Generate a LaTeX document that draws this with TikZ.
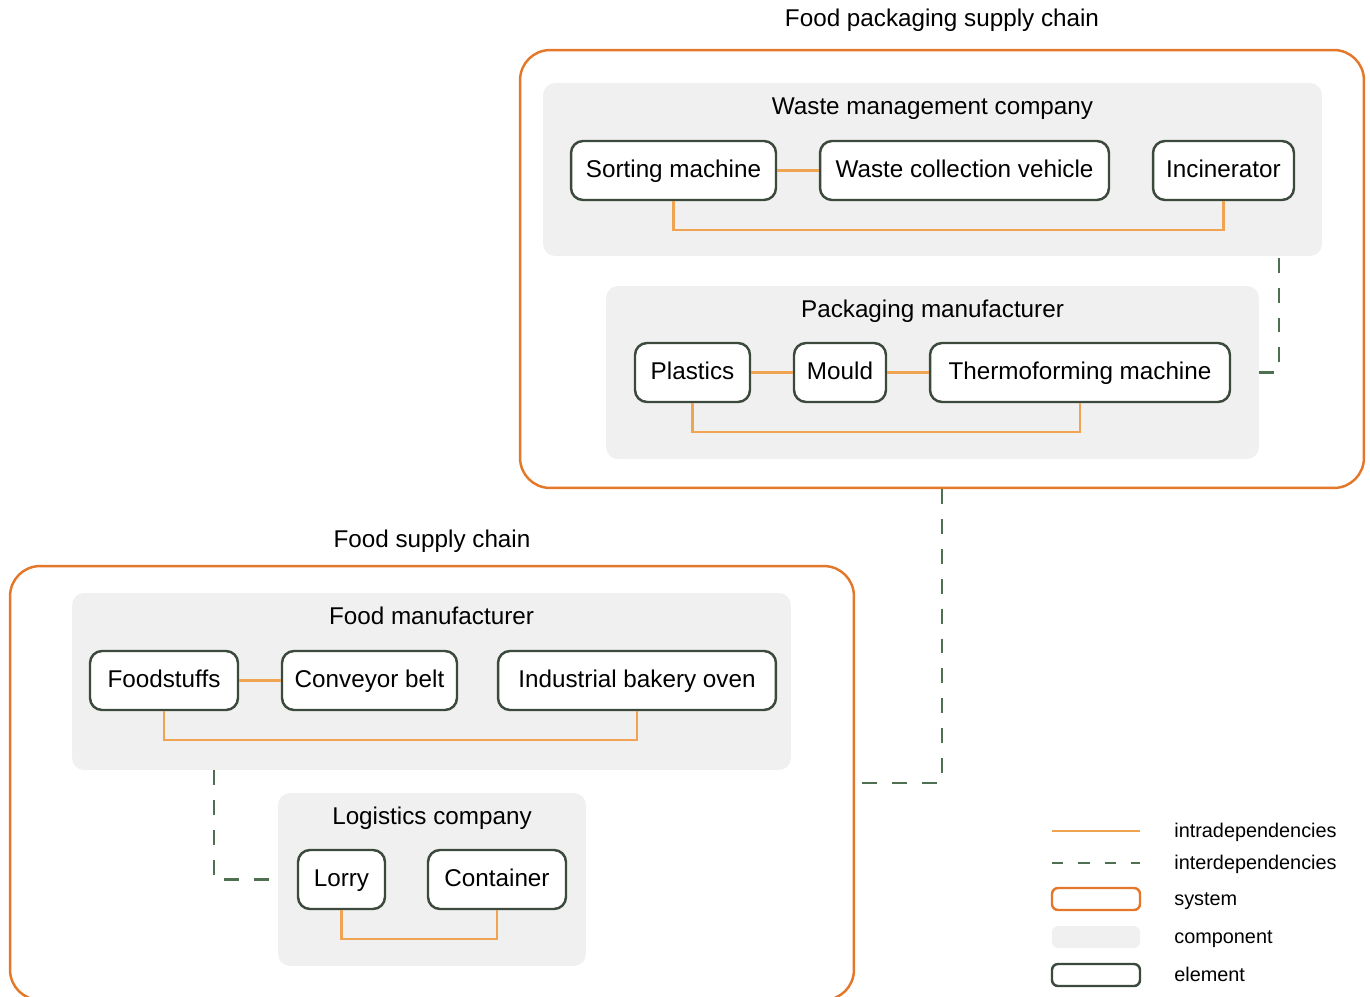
\documentclass[tikz,border=0pt]{standalone}
\usepackage{fontspec}
\setmainfont{Liberation Sans}
\definecolor{sysorange}{HTML}{E4782A}
\definecolor{intraorange}{HTML}{F0A452}
\definecolor{elemgreen}{HTML}{3B4A3C}
\definecolor{intergreen}{HTML}{4E7050}
\definecolor{compgray}{HTML}{F0F0F0}
\tikzset{
  system/.style={draw=sysorange,line width=1.4pt,rounded corners=0.6cm,minimum width=16.88cm,inner sep=0pt},
  component/.style={fill=compgray,rounded corners=0.24cm,minimum height=3.46cm,inner sep=0pt},
  element/.style={draw=elemgreen,fill=white,line width=1.4pt,rounded corners=0.24cm,minimum height=1.18cm,inner sep=0pt,text height=0.86em,text depth=0.1em,font=\fontsize{13.8}{16}\selectfont},
  title/.style={text height=0.86em,text depth=0.1em,font=\fontsize{13.8}{16}\selectfont},
  intra/.style={draw=intraorange,line width=1.2pt},
  inter/.style={draw=intergreen,line width=1.5pt,dash pattern=on 8.5pt off 8.5pt},
  legend/.style={text height=0.84em,text depth=0.12em,font=\fontsize{11.3}{13}\selectfont,anchor=west,inner sep=0pt},
  legendbox/.style={minimum width=1.76cm,minimum height=0.44cm,rounded corners=0.12cm,inner sep=0pt,line width=1.4pt}
}

\begin{document}
\begin{tikzpicture}[x=0.02cm,y=-0.02cm]
      \useasboundingbox (0,0) rectangle (1370,997);

      \node[system,minimum height=8.76cm] (packsys) at (942,269) {};
      \node[system,minimum height=8.68cm] (foodsys) at (432,783) {};
      \node[title] (packtitle) at (942,20) {Food packaging supply chain};
      \node[title] (foodtitle) at (432,541) {Food supply chain};

      \node[component,minimum width=15.58cm] (waste) at (932.5,169.5) {};
      \node[component,minimum width=13.06cm] (packman) at (932.5,372.5) {};
      \node[component,minimum width=14.38cm,minimum height=3.54cm] (foodman) at (431.5,681.5) {};
      \node[component,minimum width=6.16cm] (logist) at (432,879.5) {};
      \node[title] (wastetitle) at (932.5,108) {Waste management company};
      \node[title] (packmantitle) at (932.5,311) {Packaging manufacturer};
      \node[title] (foodmantitle) at (431.5,618) {Food manufacturer};
      \node[title] (logisttitle) at (432,818) {Logistics company};

      \node[element,minimum width=4.1cm] (sort) at (673.5,170.5) {Sorting machine};
      \node[element,minimum width=5.78cm] (wcv) at (964.5,170.5) {Waste collection vehicle};
      \node[element,minimum width=2.82cm] (incin) at (1223.5,170.5) {Incinerator};
      \node[element,minimum width=2.3cm] (plast) at (692.5,372.5) {Plastics};
      \node[element,minimum width=1.84cm] (mould) at (840,372.5) {Mould};
      \node[element,minimum width=6cm] (thermo) at (1080,372.5) {Thermoforming machine};
      \node[element,minimum width=2.96cm] (foodst) at (164,680.5) {Foodstuffs};
      \node[element,minimum width=3.5cm] (conv) at (369.5,680.5) {Conveyor belt};
      \node[element,minimum width=5.56cm] (oven) at (637,680.5) {Industrial bakery oven};
      \node[element,minimum width=1.74cm] (lorry) at (341.5,879.5) {Lorry};
      \node[element,minimum width=2.76cm] (cont) at (497,879.5) {Container};

      \draw[intra] (sort) -- (wcv);
      \draw[intra] (sort.south) -- ++(0,29) -| (incin.south);
      \draw[intra] (plast) -- (mould) -- (thermo);
      \draw[intra] (plast.south) -- ++(0,29) -| (thermo.south);
      \draw[intra] (foodst) -- (conv);
      \draw[intra] (foodst.south) -- ++(0,29) -| (oven.south);
      \draw[intra] (lorry.south) -- ++(0,29) -| (cont.south);

      \coordinate (wk) at (1279,0);
      \coordinate (fk) at (214,0);
      \draw[inter] (packman.east) -| (wk |- waste.south);
      \draw[inter] (packsys.south) |- (foodsys.east);
      \draw[inter] (foodman.south -| fk) |- (logist.west);

      \coordinate (la1) at (1052,831);
      \coordinate (lb1) at (1140,831);
      \coordinate (la2) at (1052,863);
      \coordinate (lb2) at (1140,863);
      \draw[intra] (la1) -- (lb1);
      \draw[inter,dash pattern=on 6.5pt off 8.5pt] (la2) -- (lb2);
      \node[legendbox,draw=sysorange] (lsys) at (1096,899) {};
      \node[legendbox,fill=compgray] (lcomp) at (1096,937) {};
      \node[legendbox,draw=elemgreen] (lelem) at (1096,975) {};
      \node[legend] (tintra) at (1174,831) {intradependencies};
      \node[legend] (tinter) at (1174,863) {interdependencies};
      \node[legend] (tsys) at (1174,899) {system};
      \node[legend] (tcomp) at (1174,937) {component};
      \node[legend] (telem) at (1174,975) {element};
\end{tikzpicture}
\end{document}
